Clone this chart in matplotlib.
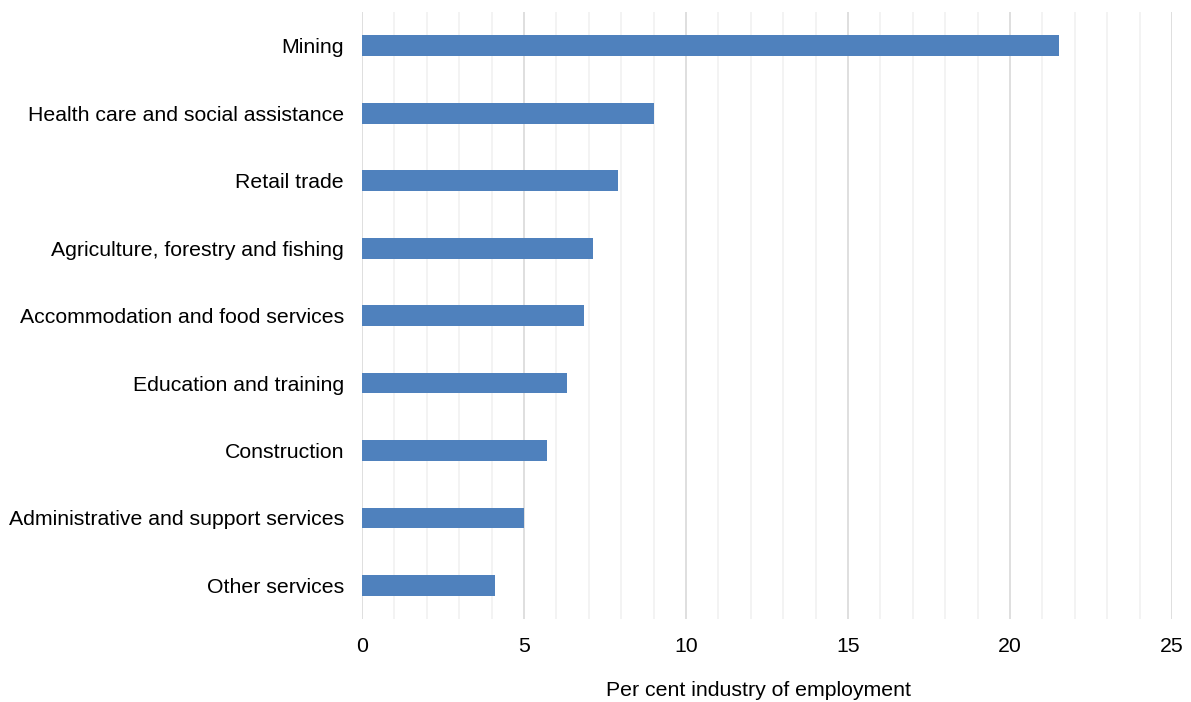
import matplotlib.pyplot as plt
from matplotlib.ticker import MultipleLocator

plt.rcParams['font.family'] = ['Liberation Sans', 'DejaVu Sans']

industries = ['Mining', 'Health care and social assistance', 'Retail trade',
              'Agriculture, forestry and fishing', 'Accommodation and food services',
              'Education and training', 'Construction',
              'Administrative and support services', 'Other services']
shares = [21.5, 9.0, 7.9, 7.13, 6.85, 6.33, 5.72, 5.0, 4.1]

fig = plt.figure(figsize=(11.91, 7.02), dpi=100)
ax = fig.add_axes([0.304, 0.118, 0.680, 0.865])

y = list(range(len(industries)))
ax.barh(y, shares, height=0.31, color='#4F81BD', zorder=3)
ax.set_yticks(y)
ax.set_yticklabels(industries, fontsize=15.3)
ax.set_ylim(len(industries) - 0.5, -0.5)

ax.set_xlim(0, 25)
ax.xaxis.set_major_locator(MultipleLocator(5))
ax.xaxis.set_minor_locator(MultipleLocator(1))
ax.grid(axis='x', which='major', color='#d6d6d6', linewidth=1.1, zorder=0)
ax.grid(axis='x', which='minor', color='#f0f0f0', linewidth=1.1, zorder=0)
ax.tick_params(axis='both', which='both', length=0, labelsize=15.3)
ax.tick_params(axis='x', pad=13)
ax.tick_params(axis='y', pad=13)
for s in ax.spines.values():
    s.set_visible(False)

ax.set_xlabel('Per cent industry of employment', fontsize=15.3)
ax.xaxis.set_label_coords(0.489, -0.118, transform=ax.transAxes)
ax.xaxis.label.set_va('center')

fig.savefig('out.png', dpi=100)
